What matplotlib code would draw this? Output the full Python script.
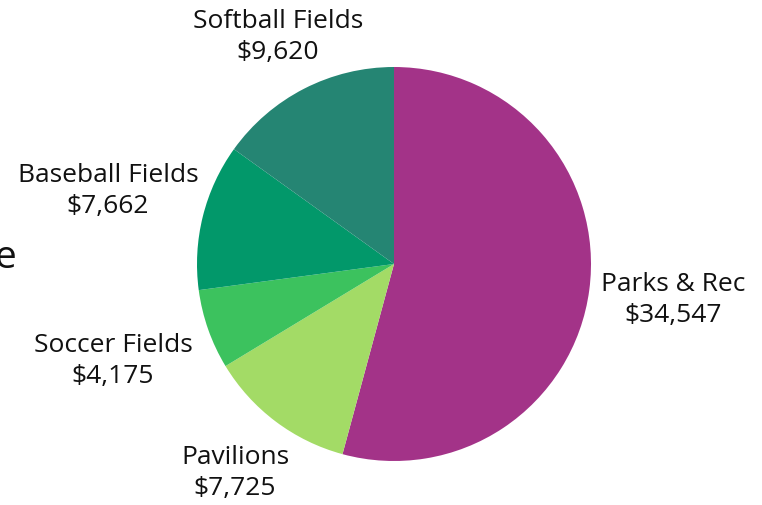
import matplotlib
matplotlib.use("Agg")
import matplotlib.pyplot as plt

categories = ["Parks & Rec", "Pavilions", "Soccer Fields", "Baseball Fields", "Softball Fields"]
values = [34547, 7725, 4175, 7662, 9620]
colors = ["#A33388", "#A3DB66", "#3CC25E", "#02986A", "#258573"]

# label centres in pixel space (x, y from top)
label_pos = [(673, 300), (235, 473), (113, 361), (108, 191), (278, 37)]

W, H = 762, 505
fig = plt.figure(figsize=(W / 100, H / 100), dpi=100)
ax = fig.add_axes([0, 0, 1, 1])

ax.pie(values, colors=colors, startangle=90, counterclock=False,
       center=(394, H - 264), radius=197,
       wedgeprops=dict(linewidth=0), frame=True)
ax.set_xlim(0, W)
ax.set_ylim(0, H)
ax.set_aspect("equal")
ax.axis("off")

for name, val, (x, y) in zip(categories, values, label_pos):
    ax.text(x, H - y, f"{name}\n${val:,}", ha="center", va="center",
            fontsize=19, family="Open Sans", color="#111111", linespacing=1.32)

# fragment of a title cut off at the left edge
ax.text(-5, H - 268, "e", ha="left", va="baseline", fontsize=28,
        family="Open Sans", color="#111111")

fig.savefig("out.png", dpi=100)
